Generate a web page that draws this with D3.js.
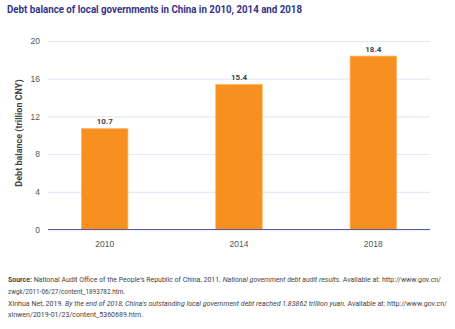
<!DOCTYPE html>
<html>
<head>
<meta charset="utf-8">
<script src="https://cdn.jsdelivr.net/npm/d3@7"></script>
<style>
  body { margin: 0; background: #fff; }
  svg { display: block; font-family: "Liberation Sans Narrow", "Roboto", sans-serif; }
  .grid line { stroke: #dfe4f6; stroke-width: 1; }
  .grid .domain { display: none; }
  .ytick text, .xtick text { fill: #555; font-size: 8.5px; }
  .ytick line, .xtick line, .ytick .domain, .xtick .domain { display: none; }
  .foot { fill: #444; font-size: 7.2px; }
</style>
</head>
<body>
<svg width="455" height="329"></svg>
<script>
var years = ["2010", "2014", "2018"];
var debt = [10.7, 15.4, 18.4];
var yTicks = [0, 4, 8, 12, 16, 20];

var svg = d3.select("svg");

// title
svg.append("text")
  .attr("x", 7).attr("y", 13)
  .attr("textLength", 295).attr("lengthAdjust", "spacingAndGlyphs")
  .style("font-size", "11.5px").style("font-weight", "bold").style("fill", "#33338a")
  .text("Debt balance of local governments in China in 2010, 2014 and 2018");

var x = d3.scaleBand()
  .domain(years)
  .range([48, 430])
  .paddingInner(0.654)
  .paddingOuter(0.249);

var y = d3.scaleLinear()
  .domain([0, 20])
  .range([229.5, 41]);

// grid
svg.append("g")
  .attr("class", "grid")
  .attr("transform", "translate(48,0)")
  .call(d3.axisLeft(y).tickValues(yTicks).tickSize(-382).tickFormat(""));

svg.append("g")
  .attr("class", "ytick")
  .attr("transform", "translate(40,0)")
  .call(d3.axisLeft(y).tickValues(yTicks).tickSize(0).tickPadding(0));

// bars
svg.selectAll(".bar")
  .data(debt)
  .enter().append("rect")
    .attr("class", "bar")
    .attr("x", function(d, i) { return x(years[i]); })
    .attr("y", function(d) { return y(d); })
    .attr("width", x.bandwidth())
    .attr("height", function(d) { return y(0) - y(d); })
    .style("fill", "#f7901e")
    .style("stroke", "#fbb565")
    .style("stroke-width", 0.8);

svg.selectAll(".val")
  .data(debt)
  .enter().append("text")
    .attr("class", "val")
    .attr("x", function(d, i) { return x(years[i]) + x.bandwidth() / 2; })
    .attr("y", function(d) { return y(d) - 4.5; })
    .attr("text-anchor", "middle")
    .style("font-size", "8px").style("font-weight", "bold").style("fill", "#444")
    .text(function(d) { return d.toFixed(1); });

// baseline
svg.append("line")
  .attr("x1", 48).attr("x2", 430)
  .attr("y1", y(0)).attr("y2", y(0))
  .style("stroke", "#5a5aa0").style("stroke-width", 1);

svg.append("g")
  .attr("class", "xtick")
  .attr("transform", "translate(0," + (y(0) + 7) + ")")
  .call(d3.axisBottom(x).tickSize(0).tickPadding(4));

// y label
svg.append("text")
  .attr("transform", "translate(22,133) rotate(-90)")
  .attr("text-anchor", "middle")
  .style("font-size", "9px").style("font-weight", "bold").style("fill", "#444")
  .text("Debt balance (trillion CNY)");

// footer
var foot = [
  {y: 282, len: 433, parts: [["Source: ", "b"], ["National Audit Office of the People's Republic of China, 2011. ", ""], ["National government debt audit results.", "i"], [" Available at: http://www.gov.cn/", ""]]},
  {y: 294, len: 117, parts: [["zwgk/2011-06/27/content_1893782.htm.", ""]]},
  {y: 306, len: 439, parts: [["Xinhua Net, 2019. ", ""], ["By the end of 2018, China's outstanding local government debt reached 1.83862 trillion yuan.", "i"], [" Available at: http://www.gov.cn/", ""]]},
  {y: 317, len: 135, parts: [["xinwen/2019-01/23/content_5360689.htm.", ""]]}
];

foot.forEach(function(l) {
  var t = svg.append("text")
    .attr("class", "foot")
    .attr("x", 8).attr("y", l.y)
    .attr("textLength", l.len).attr("lengthAdjust", "spacingAndGlyphs");
  l.parts.forEach(function(p) {
    t.append("tspan")
      .style("font-weight", p[1] == "b" ? "bold" : "normal")
      .style("font-style", p[1] == "i" ? "italic" : "normal")
      .text(p[0]);
  });
});
</script>
</body>
</html>
